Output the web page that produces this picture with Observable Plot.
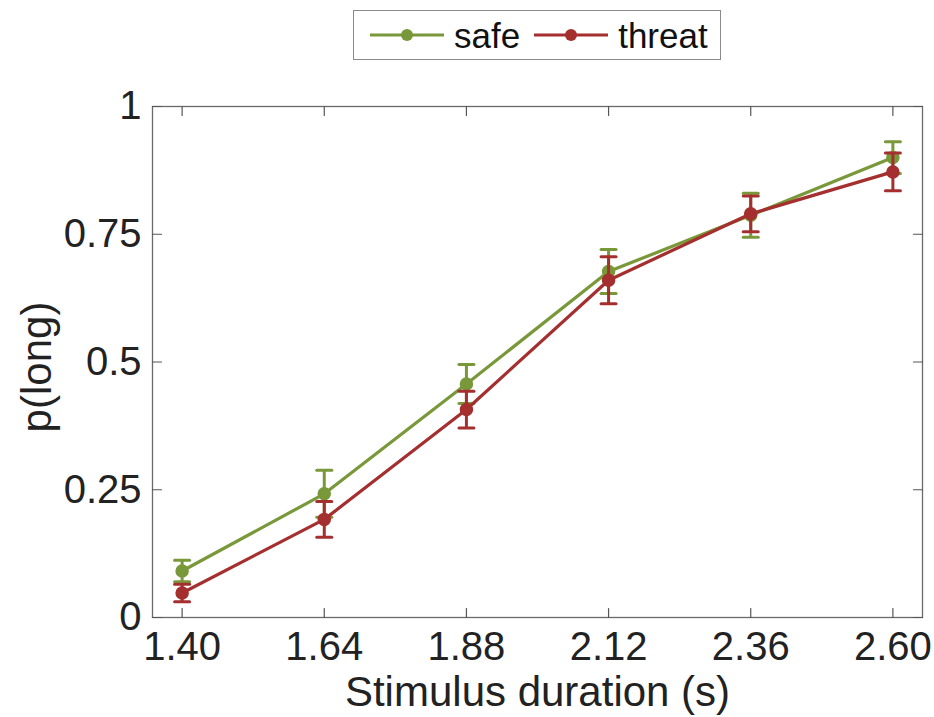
<!DOCTYPE html>
<html>
<head>
<meta charset="utf-8">
<script src="https://cdn.jsdelivr.net/npm/d3@7"></script>
<script src="https://cdn.jsdelivr.net/npm/@observablehq/plot@0.6"></script>
<style>
  html, body { margin: 0; padding: 0; background: #fff; }
  #chart { width: 934px; font-family: "Liberation Sans", Arial, Helvetica, sans-serif; }
  #legend { position: relative; height: 66px; }
  #legend .box {
    position: absolute; left: 353px; top: 10px; height: 50px;
    box-sizing: border-box; border: 1.5px solid #8a8a8a; background: #fff;
    display: flex; align-items: center; padding: 0 12px 0 16px;
    font-size: 35px; color: #111; white-space: nowrap;
  }
  #legend .sw { display: block; }
  #legend .lab { line-height: 1; }
</style>
</head>
<body>
<div id="chart">
  <div id="legend"></div>
</div>
<script>
// Stimulus durations (s) and the y-axis tick values
const durations = [1.40, 1.64, 1.88, 2.12, 2.36, 2.60];
const yTicks = [0, 0.25, 0.5, 0.75, 1];

// Proportion of "long" responses, mean and standard error per condition
const safeMean   = [0.091, 0.242, 0.457, 0.677, 0.787, 0.900];
const safeSE     = [0.021, 0.046, 0.038, 0.043, 0.043, 0.031];
const threatMean = [0.048, 0.192, 0.407, 0.660, 0.790, 0.872];
const threatSE   = [0.017, 0.035, 0.036, 0.046, 0.035, 0.037];

const conditions = ["safe", "threat"];
const colors = {safe: "#78983a", threat: "#a52f2f"};

const rows = durations.flatMap((d, i) => [
  {duration: d, cond: "safe", p: safeMean[i], se: safeSE[i]},
  {duration: d, cond: "threat", p: threatMean[i], se: threatSE[i]}
]);

// A plain straight stroke used for axis ticks and error-bar caps
const stick = {draw(ctx, l) { ctx.moveTo(0, 0); ctx.lineTo(0, -l); }};

const seriesMarks = conditions.flatMap(c => {
  const data = rows.filter(r => r.cond === c);
  const col = colors[c];
  const cap = {length: 15, rotate: 90, anchor: "middle", shape: stick, stroke: col, strokeWidth: 3};
  return [
    Plot.ruleX(data, {x: "duration", y1: d => d.p - d.se, y2: d => d.p + d.se, stroke: col, strokeWidth: 3}),
    Plot.vector(data, {x: "duration", y: d => d.p + d.se, ...cap}),
    Plot.vector(data, {x: "duration", y: d => d.p - d.se, ...cap}),
    Plot.line(data, {x: "duration", y: "p", stroke: col, strokeWidth: 3.2}),
    Plot.dot(data, {x: "duration", y: "p", r: 6, fill: col, stroke: col})
  ];
});

const tickStyle = {length: 9, anchor: "start", shape: stick, stroke: "#555", strokeWidth: 1.2};

const plot = Plot.plot({
  width: 934,
  height: 651,
  marginTop: 40,
  marginBottom: 100,
  marginLeft: 152,
  marginRight: 12,
  style: {fontFamily: '"Liberation Sans", Arial, Helvetica, sans-serif', fontSize: "40px", color: "#222", background: "#fff", overflow: "visible"},
  x: {domain: [1.35, 2.65]},
  y: {domain: [0, 1]},
  marks: [
    Plot.frame({stroke: "#6a6a6a", strokeWidth: 1.3}),
    // inward-pointing ticks on all four sides
    Plot.vector(durations, {x: d => d, frameAnchor: "bottom", rotate: 0, ...tickStyle}),
    Plot.vector(durations, {x: d => d, frameAnchor: "top", rotate: 180, ...tickStyle}),
    Plot.vector(yTicks, {y: d => d, frameAnchor: "left", rotate: 90, ...tickStyle}),
    Plot.vector(yTicks, {y: d => d, frameAnchor: "right", rotate: -90, ...tickStyle}),
    Plot.axisX({ticks: durations, tickFormat: d => d.toFixed(2), tickSize: 0, tickPadding: 14, fontSize: 40, label: null}),
    Plot.axisY({ticks: yTicks, tickFormat: d => String(d), tickSize: 0, tickPadding: 11, fontSize: 40, label: null}),
    Plot.text(["Stimulus duration (s)"], {text: d => d, frameAnchor: "bottom", dy: 88, lineAnchor: "bottom", textAnchor: "middle", fontSize: 42, fill: "#222"}),
    Plot.text(["p(long)"], {text: d => d, frameAnchor: "left", dx: -115, dy: 5, rotate: -90, textAnchor: "middle", lineAnchor: "middle", fontSize: 42, fill: "#222"}),
    ...seriesMarks
  ]
});

document.getElementById("chart").appendChild(plot);

// Legend: line-and-dot swatch followed by the condition name
const box = d3.select("#legend").append("div").attr("class", "box");
conditions.forEach((c, i) => {
  const sw = box.append("svg").attr("class", "sw")
    .attr("width", 74).attr("height", 16)
    .style("margin-left", i === 0 ? "0px" : "14px")
    .style("margin-right", "10px");
  sw.append("line").attr("x1", 0).attr("x2", 74).attr("y1", 8).attr("y2", 8)
    .attr("stroke", colors[c]).attr("stroke-width", 3);
  sw.append("circle").attr("cx", 37).attr("cy", 8).attr("r", 6).attr("fill", colors[c]);
  box.append("span").attr("class", "lab").text(c);
});
</script>
</body>
</html>
